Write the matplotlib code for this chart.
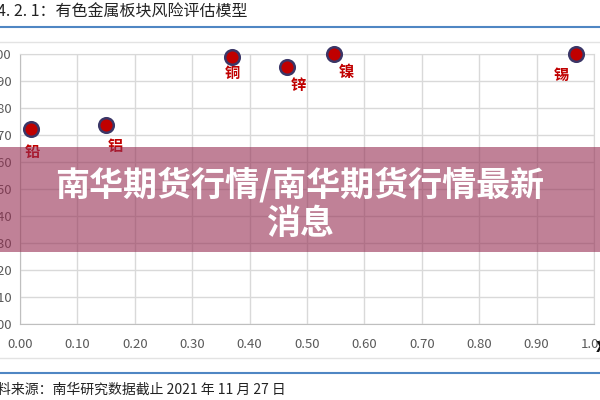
import matplotlib
matplotlib.use("Agg")
from matplotlib import pyplot as plt
from matplotlib.patches import Rectangle
from matplotlib.lines import Line2D

plt.rcParams['font.family'] = ['Noto Sans CJK SC', 'DejaVu Sans']

# data
metals = ["铅", "铝", "铜", "锌", "镍", "锡"]
x_vals = [0.019, 0.149, 0.369, 0.465, 0.547, 0.968]
y_vals = [0.722, 0.737, 0.990, 0.953, 1.000, 1.000]
# label offsets in pixels (dx, dy) relative to each point
label_offsets = [(1, -23), (10, -21), (1, -16), (11, -18), (12, -18), (-14, -21)]

title_text = "4. 2. 1：有色金属板块风险评估模型"
source_text = "料来源：南华研究数据截止 2021 年 11 月 27 日"
banner_text = "南华期货行情/南华期货行情最新\n消息"

W, H = 600, 400
fig = plt.figure(figsize=(6, 4), dpi=100)

def fx(px):
    return px / W

def fy(py):
    return 1 - py / H

ax = fig.add_axes([fx(20), fy(324), fx(594) - fx(20), fy(54) - fy(324)])
ax.set_xlim(0, 1)
ax.set_ylim(0, 1)
ticks = [i / 10 for i in range(11)]
ax.set_xticks(ticks)
ax.set_yticks(ticks)
ax.set_xticklabels([f"{t:.2f}" for t in ticks])
ax.set_yticklabels([f"{t:.2f}" for t in ticks])
ax.tick_params(axis='both', length=0, labelsize=9.5, colors="#595959")
ax.tick_params(axis='x', pad=10)
ax.tick_params(axis='y', pad=6)
ax.grid(True, color="#d9d9d9", linewidth=1)
ax.set_axisbelow(True)
for side in ["top", "right"]:
    ax.spines[side].set_color("#d9d9d9")
for side in ["left", "bottom"]:
    ax.spines[side].set_color("#bfbfbf")

ax.scatter(x_vals, y_vals, s=110, c="#c00000", edgecolors="#3b3667",
           linewidths=1.8, zorder=5, clip_on=False)
for name, x, y, (dx, dy) in zip(metals, x_vals, y_vals, label_offsets):
    ax.annotate(name, (x, y), xytext=(dx, dy), textcoords='offset pixels',
                ha='center', va='center', fontsize=11, fontweight='bold',
                color="#c00000", zorder=6, annotation_clip=False)

# title, frame lines and source note
fig.text(fx(-3), fy(12), title_text, fontsize=11.5, color="#222222",
         ha='left', va='center')
for py, col, lw in [(27, "#4f86c3", 1.5), (42, "#e3e3e3", 1), (358, "#e3e3e3", 1), (373, "#4f86c3", 1.5)]:
    fig.add_artist(Line2D([0, 1], [fy(py), fy(py)], color=col, linewidth=lw))
fig.text(fx(-3), fy(390), source_text, fontsize=10, color="#222222",
         ha='left', va='center')
fig.text(fx(596), fy(346), "x", fontsize=13, fontweight='bold', color="#111111",
         ha='left', va='center')

# semi-transparent banner over the chart
fig.add_artist(Rectangle((0, fy(252)), 1, fy(147) - fy(252), transform=fig.transFigure,
                         facecolor=(0.59, 0.18, 0.32), alpha=0.6, edgecolor='none', zorder=10))
fig.text(0.5, fy(204), banner_text, fontsize=24.5, fontweight='bold', color="white",
         ha='center', va='center', linespacing=1.12, zorder=11)

fig.savefig("out.png", dpi=100)
